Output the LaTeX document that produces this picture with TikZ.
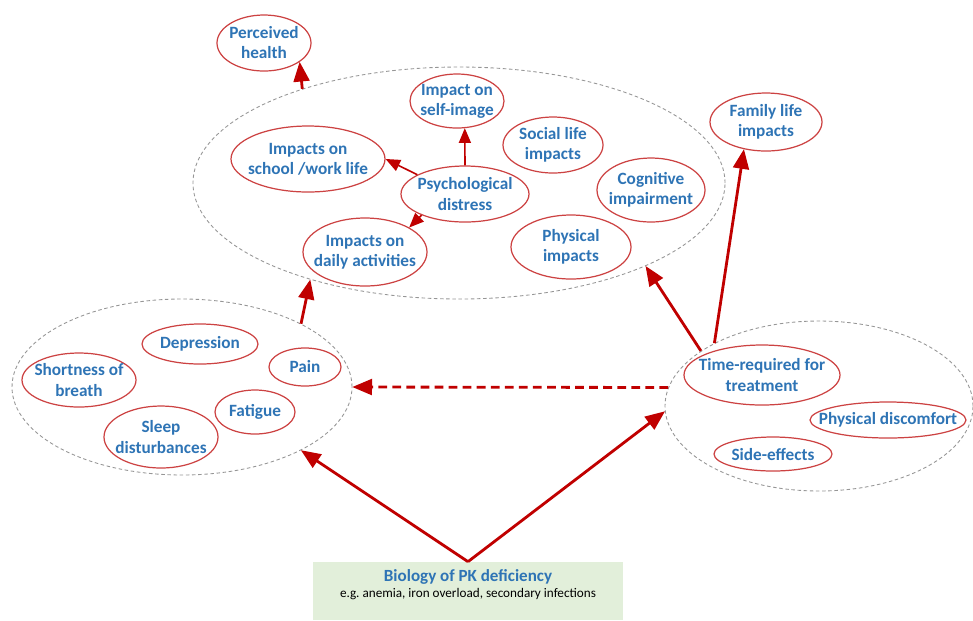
\documentclass[tikz,border=0pt]{standalone}
\usepackage{fontspec}
\setmainfont{Carlito}
\usetikzlibrary{arrows,shapes.geometric}
\definecolor{txtblue}{RGB}{46,116,181}
\definecolor{ringred}{RGB}{204,66,66}
\definecolor{arrred}{RGB}{192,0,0}
\definecolor{boxgreen}{RGB}{226,239,218}
\definecolor{dashgray}{RGB}{150,150,150}

\begin{document}
\begin{tikzpicture}[x=0.02cm,y=-0.02cm,
  wh/.style 2 args={minimum width=#1*0.02cm,minimum height=#2*0.02cm},
  item/.style={ellipse,draw=ringred,line width=0.7pt,inner xsep=-16pt,inner ysep=-7pt,align=center,
    text=txtblue,font=\fontsize{9.8}{11.4}\selectfont\bfseries},
  group/.style={ellipse,draw=dashgray,line width=0.5pt,dash pattern=on 2pt off 1.5pt,inner sep=0pt},
  link/.style={draw=arrred,line width=1.6pt,-triangle 45},
  sublink/.style={draw=arrred,line width=0.9pt,-triangle 45}]
\useasboundingbox (0,0) rectangle (973,620);

\node[group,wh={532}{232}] (impacts) at (459,183) {};
\node[group,wh={340}{176}] (symptoms) at (182,387) {};
\node[group,wh={308}{170}] (treat) at (819,406) {};

\node[item,wh={94}{56}] (health) at (264,43) {Perceived\\health};
\node[item,wh={94}{54}] (selfimg) at (457,101) {Impact on\\self-image};
\node[item,wh={154}{66}] (school) at (308,159) {Impacts on\\school /work life};
\node[item,wh={128}{56}] (psych) at (465,194) {Psychological\\distress};
\node[item,wh={124}{68}] (daily) at (365,252) {Impacts on\\daily activities};
\node[item,wh={100}{56}] (social) at (553,145) {Social life\\impacts};
\node[item,wh={108}{64}] (cogn) at (651,190) {Cognitive\\impairment};
\node[item,wh={120}{64}] (physimp) at (571,247) {Physical\\impacts};
\node[item,wh={112}{58}] (family) at (766,122) {Family life\\impacts};

\node[item,wh={116}{40}] (depr) at (200,344) {Depression};
\node[item,wh={72}{38}] (pain) at (305,367) {Pain};
\node[item,wh={114}{54}] (breath) at (79,380) {Shortness of\\breath};
\node[item,wh={80}{44}] (fatigue) at (255,412) {Fatigue};
\node[item,wh={114}{62}] (sleep) at (161,437) {Sleep\\disturbances};

\node[item,wh={156}{60}] (timereq) at (762,375) {Time-required for\\treatment};
\node[item,wh={156}{36}] (discomf) at (888,420) {Physical discomfort};
\node[item,wh={118}{34}] (side) at (773,454) {Side-effects};

\node[fill=boxgreen,wh={310}{58},inner sep=0pt] (bio) at (468,591) {};
\node[text=txtblue,font=\fontsize{9.7}{11}\selectfont\bfseries] (biotitle) at (468,577) {Biology of PK deficiency};
\node[font=\fontsize{7.5}{9}\selectfont] (bionote) at (468,594) {e.g.\ anemia, iron overload, secondary infections};

\draw[link] (impacts.149) -- (health.-28);
\draw[link] (symptoms.28) -- (impacts.213);
\draw[sublink] (psych.158) -- (school.east);
\draw[sublink] (psych.north) -- (selfimg.-74);
\draw[sublink] (psych.206) -- (daily.29);
\draw[link] (treat.155) -- (impacts.-24);
\draw[link] (treat.149) -- (family.231);
\draw[link,dash pattern=on 5pt off 3pt] (treat.173) -- (symptoms.east);
\draw[link] (bio.north) -- (symptoms.-28);
\draw[link] (bio.north) -- (treat.182);
\end{tikzpicture}
\end{document}
